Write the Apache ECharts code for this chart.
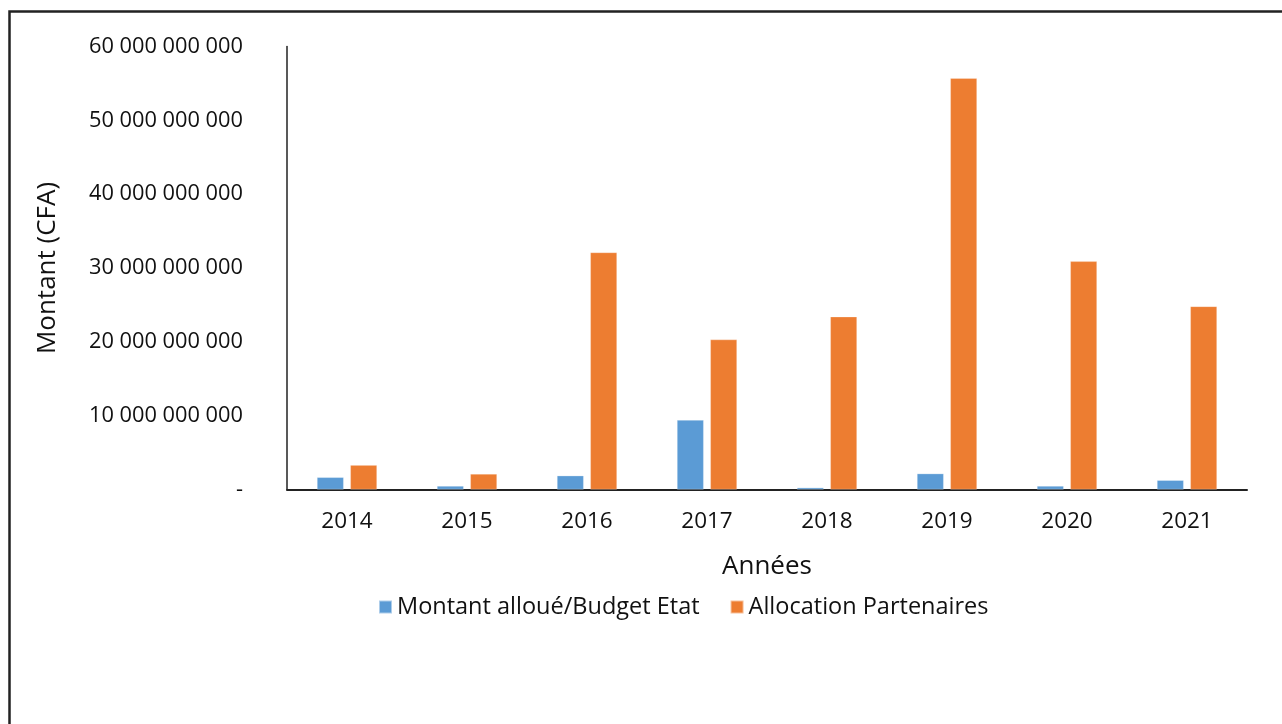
<!DOCTYPE html>
<html>
<head>
<meta charset="utf-8">
<script src="https://cdn.jsdelivr.net/npm/echarts@6/dist/echarts.min.js"></script>
<style>
  html, body { margin: 0; padding: 0; background: #fff; }
  #chart { width: 1282px; height: 724px; }
</style>
</head>
<body>
<div id="chart"></div>
<script>
// Années
const years = ['2014', '2015', '2016', '2017', '2018', '2019', '2020', '2021'];
// Montant alloué/Budget Etat (CFA)
const budgetEtat = [1650000000, 470000000, 1870000000, 9400000000, 250000000, 2150000000, 470000000, 1250000000];
// Allocation Partenaires (CFA)
const allocationPartenaires = [3300000000, 2100000000, 32100000000, 20300000000, 23400000000, 55700000000, 30900000000, 24800000000];
// Y-axis scale
const yMin = 0, yMax = 60000000000, yStep = 10000000000;

const FONT = '"Open Sans", sans-serif';
const TXT = '#111';

function fmt(v) {
  if (v === 0) return '-';
  return String(Math.round(v)).replace(/\B(?=(\d{3})+(?!\d))/g, ' ');
}

const chart = echarts.init(document.getElementById('chart'), null, { renderer: 'canvas' });
chart.setOption({
  backgroundColor: '#fff',
  animation: false,
  textStyle: { fontFamily: FONT, color: TXT },
  graphic: [{
    type: 'polyline',
    shape: { points: [[9.5, 760], [9.5, 11.5], [1300, 11.5]] },
    style: { stroke: '#222', lineWidth: 2.5, fill: null },
    z: 100
  }],
  grid: { left: 287, right: 35, top: 46.5, bottom: 234.5, containLabel: false },
  legend: {
    left: 373, top: 590,
    itemWidth: 13, itemHeight: 13, itemGap: 30,
    icon: 'rect',
    textStyle: { fontFamily: FONT, fontSize: 23.5, color: TXT },
    data: ['Montant alloué/Budget Etat', 'Allocation Partenaires']
  },
  xAxis: {
    type: 'category',
    data: years,
    name: 'Années',
    nameLocation: 'middle',
    nameGap: 64,
    nameTextStyle: { fontFamily: FONT, fontSize: 26, color: TXT },
    axisLine: { lineStyle: { color: '#222', width: 2 } },
    axisTick: { show: false },
    axisLabel: { fontFamily: FONT, fontSize: 22.5, color: TXT, margin: 21 }
  },
  yAxis: {
    type: 'value',
    min: yMin, max: yMax, interval: yStep,
    name: 'Montant (CFA)',
    nameLocation: 'middle',
    nameRotate: 90,
    nameGap: 226,
    nameTextStyle: { fontFamily: FONT, fontSize: 26, color: TXT },
    axisLine: { show: true, lineStyle: { color: '#222', width: 1.5 } },
    axisTick: { show: false },
    splitLine: { show: false },
    axisLabel: { fontFamily: FONT, fontSize: 21.8, color: TXT, margin: 44, formatter: fmt }
  },
  series: [
    {
      name: 'Montant alloué/Budget Etat',
      type: 'bar',
      data: budgetEtat,
      barWidth: '22.2%',
      barGap: '25%',
      itemStyle: { color: '#5B9BD5', borderColor: 'rgba(255,255,255,0.5)', borderWidth: 0.5 }
    },
    {
      name: 'Allocation Partenaires',
      type: 'bar',
      data: allocationPartenaires,
      barWidth: '22.2%',
      barGap: '25%',
      itemStyle: { color: '#ED7D31', borderColor: 'rgba(255,255,255,0.5)', borderWidth: 0.5 }
    }
  ]
});
</script>
</body>
</html>
